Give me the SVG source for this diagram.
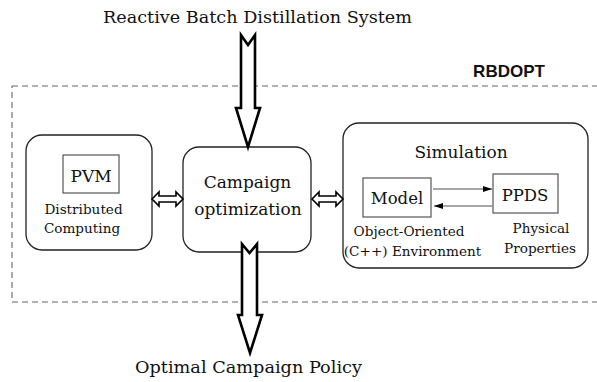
<svg xmlns="http://www.w3.org/2000/svg" width="597" height="382" viewBox="0 0 597 382">
<defs>
<style>
.serif{font-family:"DejaVu Serif","Liberation Serif",serif;fill:#111;text-anchor:middle}
.big{font-size:17.5px}
.mid{font-size:17px}
.small{font-size:13.6px}
.node{fill:#fff;stroke:#222;stroke-width:1.3}
.inner{fill:#fff;stroke:#555;stroke-width:1.2}
.fat{fill:#fff;stroke:#000;stroke-width:2.6;stroke-linejoin:miter}
.dbl{fill:#fff;stroke:#000;stroke-width:1.6;stroke-linejoin:miter}
.thin{stroke:#888;stroke-width:1.3;fill:none}
</style>
<marker id="ah" markerWidth="10" markerHeight="8" refX="9" refY="4" orient="auto" markerUnits="userSpaceOnUse">
<path d="M0,1 L9,4 L0,7 Z" fill="#000"/>
</marker>
</defs>
<rect width="597" height="382" fill="#fff"/>
<g id="rbdopt">
<rect x="12" y="86" width="600" height="216" fill="none" stroke="#666" stroke-width="1.1" stroke-dasharray="6,4"/>
<text x="509" y="77" font-family="'Liberation Sans',Arial,sans-serif" font-weight="bold" font-size="17" text-anchor="middle" fill="#111">RBDOPT</text>
</g>
<g id="title">
<text class="serif big" x="257.5" y="23" textLength="309" lengthAdjust="spacingAndGlyphs">Reactive Batch Distillation System</text>
</g>
<g id="output">
<text class="serif big" x="248.5" y="373" textLength="227" lengthAdjust="spacingAndGlyphs">Optimal Campaign Policy</text>
</g>
<g id="pvm-node">
<rect class="node" x="26" y="135" width="126" height="115" rx="16"/>
<rect class="inner" x="63" y="155" width="56" height="38"/>
<text class="serif mid" x="91" y="182">PVM</text>
<text class="serif small" x="83.5" y="214">Distributed</text>
<text class="serif small" x="82" y="233">Computing</text>
</g>
<g id="campaign-node">
<rect class="node" x="183" y="147" width="128" height="105" rx="16"/>
<text class="serif mid" x="247.5" y="188">Campaign</text>
<text class="serif mid" x="248" y="215">optimization</text>
</g>
<g id="simulation-node">
<rect class="node" x="343" y="123" width="245" height="145" rx="16"/>
<text class="serif mid" x="461" y="158">Simulation</text>
<g id="model">
<rect class="inner" x="363" y="178" width="68" height="39"/>
<text class="serif" font-size="16.5" x="397" y="204">Model</text>
</g>
<g id="ppds">
<rect class="inner" x="493" y="174" width="65" height="39"/>
<text class="serif" font-size="16.5" x="525" y="201">PPDS</text>
</g>
<text class="serif small" x="409" y="236">Object-Oriented</text>
<text class="serif small" x="412.5" y="256">(C++) Environment</text>
<text class="serif small" x="541" y="233">Physical</text>
<text class="serif small" x="540" y="253">Properties</text>
</g>
<g id="connectors">
<path class="fat" d="M241,35 L248,45 L255,35 L255,108 L260,108 L248,147 L236,108 L241,108 Z"/>
<path class="fat" d="M242,244 L249.5,253 L257,244 L257,315 L262,315 L250,353 L238,315 L242,315 Z"/>
<path class="dbl" d="M152,199 L159,192 L159,196 L176,196 L176,192 L183,199 L176,206 L176,202 L159,202 L159,206 Z"/>
<path class="dbl" d="M312,199 L319,192 L319,196 L336,196 L336,192 L343,199 L336,206 L336,202 L319,202 L319,206 Z"/>
<line class="thin" x1="433" y1="189" x2="492" y2="189" marker-end="url(#ah)"/>
<line class="thin" x1="493" y1="206" x2="434" y2="206" marker-end="url(#ah)"/>
</g>
</svg>
